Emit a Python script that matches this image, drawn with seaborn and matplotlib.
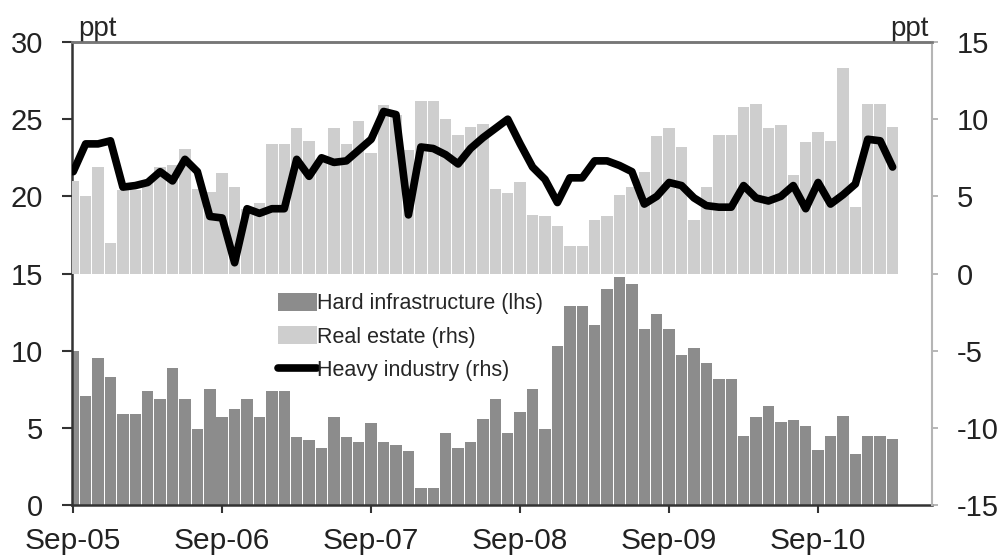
import matplotlib
matplotlib.use("Agg")
import matplotlib.pyplot as plt
from matplotlib.patches import Patch
from matplotlib.lines import Line2D
import seaborn as sns
import numpy as np

# monthly data, Sep-05 .. Mar-11
hard_infra = [10.0, 7.1, 9.5, 8.3, 5.9, 5.9, 7.4, 6.9, 8.9, 6.9, 4.9, 7.5,
              5.7, 6.2, 6.9, 5.7, 7.4, 7.4, 4.4, 4.2, 3.7, 5.7, 4.4, 4.1,
              5.3, 4.1, 3.9, 3.5, 1.1, 1.1, 4.7, 3.7, 4.1, 5.6, 6.9, 4.7,
              6.0, 7.5, 4.9, 10.3, 12.9, 12.9, 11.7, 14.0, 14.8, 14.3, 11.4, 12.4,
              11.4, 9.7, 10.2, 9.2, 8.2, 8.2, 4.5, 5.7, 6.4, 5.4, 5.5, 5.1,
              3.6, 4.5, 5.8, 3.3, 4.5, 4.5, 4.3]
real_estate = [6.0, 5.0, 6.9, 2.0, 5.4, 5.4, 5.9, 6.9, 7.0, 8.1, 5.5, 5.3,
               6.5, 5.6, 4.2, 4.6, 8.4, 8.4, 9.4, 8.6, 7.4, 9.4, 8.4, 9.9,
               7.8, 10.9, 10.3, 8.0, 11.2, 11.2, 10.0, 9.0, 9.5, 9.7, 5.5, 5.2,
               5.9, 3.8, 3.7, 3.1, 1.8, 1.8, 3.5, 3.7, 5.1, 5.6, 6.6, 8.9,
               9.4, 8.2, 3.5, 5.6, 9.0, 9.0, 10.8, 11.0, 9.4, 9.6, 6.4, 8.5,
               9.2, 8.6, 13.3, 4.3, 11.0, 11.0, 9.5]
heavy_industry = [6.6, 8.4, 8.4, 8.6, 5.6, 5.7, 5.9, 6.6, 6.0, 7.4, 6.6, 3.7,
                  3.6, 0.7, 4.2, 3.9, 4.2, 4.2, 7.4, 6.3, 7.5, 7.2, 7.3, 8.0,
                  8.7, 10.5, 10.3, 3.8, 8.2, 8.1, 7.7, 7.1, 8.1, 8.8, 9.4, 10.0,
                  8.4, 6.9, 6.1, 4.6, 6.2, 6.2, 7.3, 7.3, 7.0, 6.6, 4.5, 5.0,
                  5.9, 5.7, 4.9, 4.4, 4.3, 4.3, 5.7, 4.9, 4.7, 5.0, 5.7, 4.2,
                  5.9, 4.5, 5.1, 5.8, 8.7, 8.6, 6.9]
tick_labels = ["Sep-05", "Sep-06", "Sep-07", "Sep-08", "Sep-09", "Sep-10"]
legend_labels = ["Hard infrastructure (lhs)", "Real estate (rhs)", "Heavy industry (rhs)"]

dark_grey = "#8c8c8c"
light_grey = "#cecece"

months = np.arange(len(hard_infra))

sns.set_style("white")
plt.rcParams["font.family"] = ["Liberation Sans", "DejaVu Sans"]
plt.rcParams["axes.unicode_minus"] = False

fig, ax = plt.subplots(figsize=(10.04, 5.6), dpi=100)
fig.subplots_adjust(left=0.0717, right=0.928, top=0.925, bottom=0.098)
ax2 = ax.twinx()

sns.barplot(x=months, y=hard_infra, ax=ax, color=dark_grey, width=0.92,
            native_scale=True, errorbar=None, saturation=1, linewidth=0)
sns.barplot(x=months, y=real_estate, ax=ax2, color=light_grey, width=0.92,
            native_scale=True, errorbar=None, saturation=1, linewidth=0)
sns.lineplot(x=months, y=heavy_industry, ax=ax2, color="black", linewidth=5.5)

ax.set_ylim(0, 30)
ax2.set_ylim(-15, 15)
ax.set_yticks(np.arange(0, 31, 5))
ax2.set_yticks(np.arange(-15, 16, 5))
ax.set_xlim(-0.1, 69.15)
ax.set_xticks(np.arange(0, 61, 12))
ax.set_xticklabels(tick_labels)
ax2.set_xlim(ax.get_xlim())
for a in (ax, ax2):
    a.set_xlabel("")
    a.set_ylabel("")

ax.tick_params(axis="y", left=True, direction="out", length=7, width=1.5,
               pad=14, labelsize=21, color="#333333", labelcolor="#222222")
ax.tick_params(axis="x", bottom=True, direction="out", length=5.5, width=1.5,
               pad=10, labelsize=21.5, color="#333333", labelcolor="#222222")
ax2.tick_params(axis="y", right=True, direction="out", length=4.5, width=1.2,
                pad=13.5, labelsize=21, color="#aaaaaa", labelcolor="#222222")

ax.spines["left"].set_color("#333333")
ax.spines["left"].set_linewidth(1.8)
ax.spines["bottom"].set_color("#333333")
ax.spines["bottom"].set_linewidth(1.8)
ax.spines["top"].set_color("#777777")
ax.spines["top"].set_linewidth(1.8)
ax.spines["right"].set_visible(False)
ax2.spines["left"].set_visible(False)
ax2.spines["bottom"].set_visible(False)
ax2.spines["top"].set_color("#777777")
ax2.spines["top"].set_linewidth(1.8)
ax2.spines["right"].set_color("#b5b5b5")
ax2.spines["right"].set_linewidth(1.5)

ax.text(0.007, 1.0, "ppt", transform=ax.transAxes, ha="left", va="bottom", fontsize=20)
ax.text(0.996, 1.0, "ppt", transform=ax.transAxes, ha="right", va="bottom", fontsize=20)

handles = [Patch(facecolor=dark_grey, edgecolor="none"),
           Patch(facecolor=light_grey, edgecolor="none"),
           Line2D([], [], color="black", linewidth=5.5)]
ax2.legend(handles, legend_labels, loc="upper left", bbox_to_anchor=(0.24, 0.458),
           frameon=False, fontsize=15.5, handlelength=1.8, handleheight=0.9,
           handletextpad=0.0, labelspacing=0.55, borderaxespad=0, borderpad=0)

fig.savefig("out.png", dpi=100)
